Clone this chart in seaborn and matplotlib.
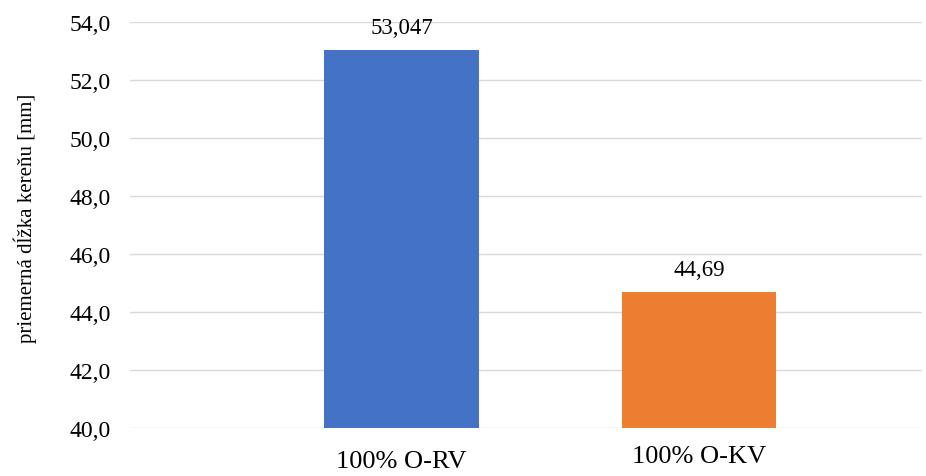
"""Priemerná dĺžka kereňu — stĺpcový graf."""

import matplotlib

matplotlib.use("Agg")

import matplotlib.pyplot as plt
import matplotlib.transforms as mtransforms
import pandas as pd
import seaborn as sns
from matplotlib.ticker import FuncFormatter

categories = ["100% O-RV", "100% O-KV"]
values = [53.047, 44.69]
value_labels = ["53,047", "44,69"]
bar_colors = ["#4472C4", "#ED7D31"]

sns.set_theme(style="white")
plt.rcParams["font.family"] = ["Liberation Serif", "DejaVu Serif"]
plt.rcParams["text.color"] = "black"

df = pd.DataFrame({"kategoria": categories, "dlzka": values})

fig = plt.figure(figsize=(9.26, 4.77), dpi=100)
ax = fig.add_axes([0.1404, 0.0996, 0.8553, 0.8512])

sns.barplot(
    data=df,
    x="kategoria",
    y="dlzka",
    hue="kategoria",
    palette=bar_colors,
    width=0.52,
    legend=False,
    saturation=1,
    linewidth=0,
    ax=ax,
    zorder=3,
)

ax.set_ylim(40, 54)
ax.set_xlim(-0.913, 1.75)
ax.set_yticks(range(40, 55, 2))
ax.yaxis.set_major_formatter(FuncFormatter(lambda v, _: f"{v:.1f}".replace(".", ",")))
ax.grid(axis="y", color="#d9d9d9", linewidth=1, zorder=0)
for side in ["left", "right", "top", "bottom"]:
    ax.spines[side].set_visible(False)

ax.tick_params(axis="y", labelsize=17, length=0, pad=14, labelcolor="black")
ax.tick_params(axis="x", length=0, labelbottom=False)
ax.set_xlabel("")
ax.set_ylabel("priemerná dĺžka kereňu [mm]", fontsize=15, color="black")
ax.yaxis.set_label_coords(-0.1174, 0.52)

# popisky kategórií (v origináli mierne posunuté)
xlab_trans = mtransforms.blended_transform_factory(ax.transData, ax.transAxes)
for i, (cat, dy) in enumerate(zip(categories, [0, 5])):
    ax.text(
        i,
        -0.052 + dy / 406,
        cat,
        transform=xlab_trans,
        ha="center",
        va="top",
        fontsize=19,
        color="black",
    )

for i, (v, lab) in enumerate(zip(values, value_labels)):
    ax.annotate(
        lab,
        (i, v),
        xytext=(0, 9),
        textcoords="offset points",
        ha="center",
        va="bottom",
        fontsize=16.5,
        color="black",
    )

fig.savefig("out.png", dpi=100)
